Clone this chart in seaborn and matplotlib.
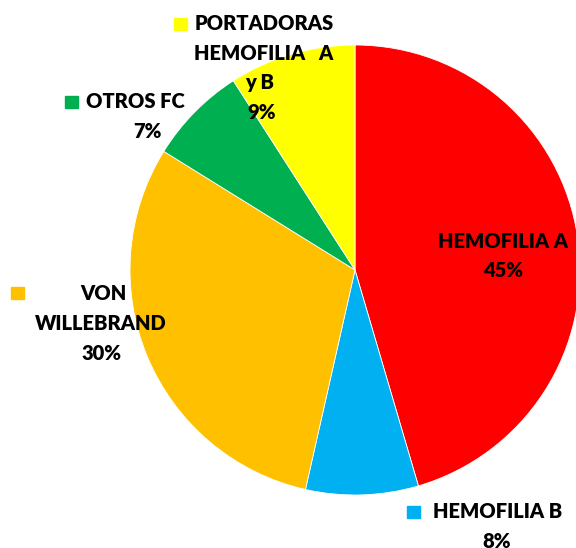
import matplotlib
matplotlib.use("Agg")
import matplotlib.pyplot as plt
import seaborn as sns

categories = ["HEMOFILIA A", "HEMOFILIA B", "VON\nWILLEBRAND", "OTROS FC", "PORTADORAS\nHEMOFILIA   A\ny B"]
values = [45, 8, 30, 7, 9]
colors = ["#FF0000", "#00B0F0", "#FFC000", "#00B050", "#FFFF00"]

sns.set_style("white")
plt.rcParams['font.family'] = ['Lato', 'DejaVu Sans']

fig = plt.figure(figsize=(5.76, 5.48), dpi=100)
ax = fig.add_axes([0, 0, 1, 1])

H = 548
cx, cy, r = 355, H - 270, 225
ax.pie(values, colors=colors, startangle=90, counterclock=False,
       center=(cx, cy), radius=r, frame=True,
       wedgeprops=dict(edgecolor='white', linewidth=0.6))
ax.set_xlim(0, 576)
ax.set_ylim(0, 548)
ax.set_aspect('equal')
ax.axis('off')

total = sum(values)
pcts = [f"{round(v / total * 100)}%" for v in values]

fs = 14.5
tk = dict(fontsize=fs, fontweight='heavy', color='black', ha='center', va='center')
ls = 29.5

def lines(x, y0, texts, xs=None):
    for i, t in enumerate(texts):
        xx = x if xs is None else xs[i]
        ax.text(xx, H - (y0 + i * ls), t, **tk)

def square(x, y, c):
    ax.add_patch(plt.Rectangle((x, H - y - 12), 13, 12, color=c, clip_on=False))

# Hemofilia A
lines(503, 241, [categories[0], pcts[0]], xs=[503, 503])
# Hemofilia B
square(407, 506, colors[1])
lines(498, 512, [categories[1], pcts[1]], xs=[498, 497])
# Von Willebrand
square(11, 287, colors[2])
lines(102, 294, categories[2].split("\n") + [pcts[2]], xs=[103, 101, 102])
# Otros FC
square(65, 96, colors[3])
lines(135, 102, [categories[3], pcts[3]], xs=[135, 147])
# Portadoras
square(174, 18, colors[4])
lines(263, 24, categories[4].split("\n") + [pcts[4]], xs=[264, 264, 260, 262])

fig.savefig("out.png", dpi=100)
